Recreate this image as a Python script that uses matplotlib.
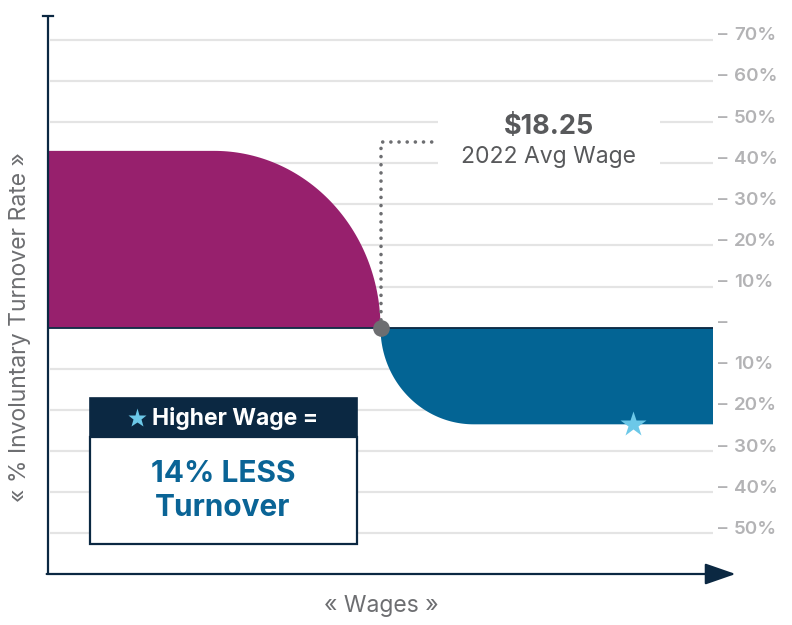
import numpy as np
import matplotlib
matplotlib.use('Agg')
from matplotlib import pyplot as plt
from matplotlib import transforms
from matplotlib.patches import Polygon, Rectangle

# data
low_wage_rate = 43.0      # % turnover, left block
high_wage_rate = -23.5    # % turnover, right block
avg_wage_x = 50.0         # position of the 2022 avg wage on the wage axis
low_flat_end = 25.0       # where the left block starts to curve down
high_flat_start = 64.0    # where the right block stops curving
wage_max = 100.0
star_x = 88.0
tick_vals = [70, 60, 50, 40, 30, 20, 10, 0, -10, -20, -30, -40, -50]
tick_labels = ['70%', '60%', '50%', '40%', '30%', '20%', '10%', '',
               '10%', '20%', '30%', '40%', '50%']
wage_label = '$18.25'
wage_sub = '2022 Avg Wage'

PURPLE = '#97206d'
BLUE = '#036494'
NAVY = '#0b2842'
STAR = '#6cc8e8'
GRID = '#e4e4e4'
GRAY = '#58595b'
TICK = '#b3b3b5'

plt.rcParams['font.family'] = ['Inter', 'DejaVu Sans']

W, H = 792, 625
fig = plt.figure(figsize=(W / 100, H / 100), dpi=100)


def px(x, y):
	return x / W, 1 - y / H


ax = fig.add_axes([48 / W, (H - 574) / H, (713 - 48) / W, (574 - 16) / H])
ax.set_xlim(0, wage_max)
ax.set_ylim(-59.9, 75.8)
ax.axis('off')

# grid
ax.hlines([v for v in tick_vals if v != 0], 0.3, wage_max, color=GRID, lw=1.6, zorder=0.5)

# left (purple) block: flat then quarter ellipse down to the avg wage
t = np.linspace(np.pi / 2, 0, 80)
cx = low_flat_end + (avg_wage_x - low_flat_end) * np.cos(t)
cy = low_wage_rate * np.sin(t)
pts = [(0, 0), (0, low_wage_rate)] + list(zip(cx, cy))
ax.add_patch(Polygon(pts, closed=True, fc=PURPLE, ec='none', zorder=2))

# right (blue) block
t = np.linspace(np.pi, 1.5 * np.pi, 80)
bx = high_flat_start + (high_flat_start - avg_wage_x) * np.cos(t)
by = -high_wage_rate * np.sin(t)
pts = list(zip(bx, by)) + [(wage_max, high_wage_rate), (wage_max, 0)]
ax.add_patch(Polygon(pts, closed=True, fc=BLUE, ec='none', zorder=2))

# zero line
ax.hlines(0, 0, wage_max, color=NAVY, lw=1.3, zorder=3)

# white gap behind the label
ax.add_patch(Rectangle((58.6, 38), 33.5, 14.5, fc='white', ec='none', zorder=1))

# dotted marker line
top_y = 45.2
ax.plot([avg_wage_x, avg_wage_x, 58.3], [0, top_y, top_y], color='#6d6e71', lw=2.6,
		linestyle=(0, (0.01, 2.25)), dash_capstyle='round', zorder=4)
ax.plot([avg_wage_x], [0], 'o', ms=12, color='#6d6e71', mec='none', zorder=5, clip_on=False)

ax.text(75.3, 48.8, wage_label, ha='center', va='center', fontsize=19.5,
		fontweight='bold', color=GRAY, zorder=6)
ax.text(75.3, 41.6, wage_sub, ha='center', va='center', fontsize=16.5, color=GRAY, zorder=6)

# star on the blue block
ax.plot([star_x], [high_wage_rate], marker='*', ms=19, color=STAR, mec='none', zorder=6)

# y tick labels on the right: a dash, then the value
dash_tr = transforms.offset_copy(ax.get_yaxis_transform(), fig=fig, x=5, y=4, units='dots')
num_tr = transforms.offset_copy(ax.get_yaxis_transform(), fig=fig, x=21, y=4, units='dots')
for v, lab in zip(tick_vals, tick_labels):
	ax.text(1.0, v, '–', transform=dash_tr, ha='left', va='center', fontsize=13.5,
			fontweight='semibold', color=TICK, clip_on=False)
	ax.text(1.0, v, lab, transform=num_tr, ha='left', va='center', fontsize=13.5,
			fontweight='semibold', color=TICK, clip_on=False)

# axes lines
ax.plot([0, 0], [0, 1], transform=ax.transAxes, color=NAVY, lw=1.6, clip_on=False,
		solid_capstyle='butt', zorder=7)
ax.plot([-0.0068, 0.0068], [1, 1], transform=ax.transAxes, color=NAVY, lw=1.6,
		clip_on=False, zorder=7)
ax.annotate('', xy=(1.034, 0), xytext=(-0.002, 0), xycoords='axes fraction',
			arrowprops=dict(arrowstyle='-|>,head_length=0.95,head_width=0.33',
							mutation_scale=20, color=NAVY, lw=1.6,
							shrinkA=0, shrinkB=0), zorder=7)

# axis titles
fig.text(*px(20, 327), '« % Involuntary Turnover Rate »', rotation=90, ha='center',
		 va='center', fontsize=16.5, color='#6d6e71')
fig.text(*px(381, 606), '« Wages »', ha='center', va='center', fontsize=16.5,
		 color='#6d6e71')

# callout box
x0, y0 = px(90, 437)
x1, y1 = px(357, 398)
fig.add_artist(Rectangle((x0, y0), x1 - x0, y1 - y0, transform=fig.transFigure,
						 fc=NAVY, ec=NAVY, lw=1.2, zorder=8))
bx0, by0 = px(90, 544)
fig.add_artist(Rectangle((bx0, by0), x1 - bx0, y0 - by0, transform=fig.transFigure,
						 fc='white', ec=NAVY, lw=1.6, zorder=8))
fig.add_artist(plt.Line2D([px(137, 0)[0]], [px(0, 418)[1]], marker='*', ms=14,
						  color=STAR, mec='none', transform=fig.transFigure, zorder=9))
fig.text(*px(152, 418), 'Higher Wage =', ha='left', va='center', fontsize=16.5,
		 fontweight='bold', color='white', zorder=9)
fig.text(*px(223, 474), '14% LESS', ha='center', va='center', fontsize=21.5,
		 fontweight='bold', color='#0a6496', zorder=9)
fig.text(*px(223, 508), 'Turnover', ha='center', va='center', fontsize=21.5,
		 fontweight='bold', color='#0a6496', zorder=9)

fig.savefig('out.png', dpi=100, facecolor='white')
